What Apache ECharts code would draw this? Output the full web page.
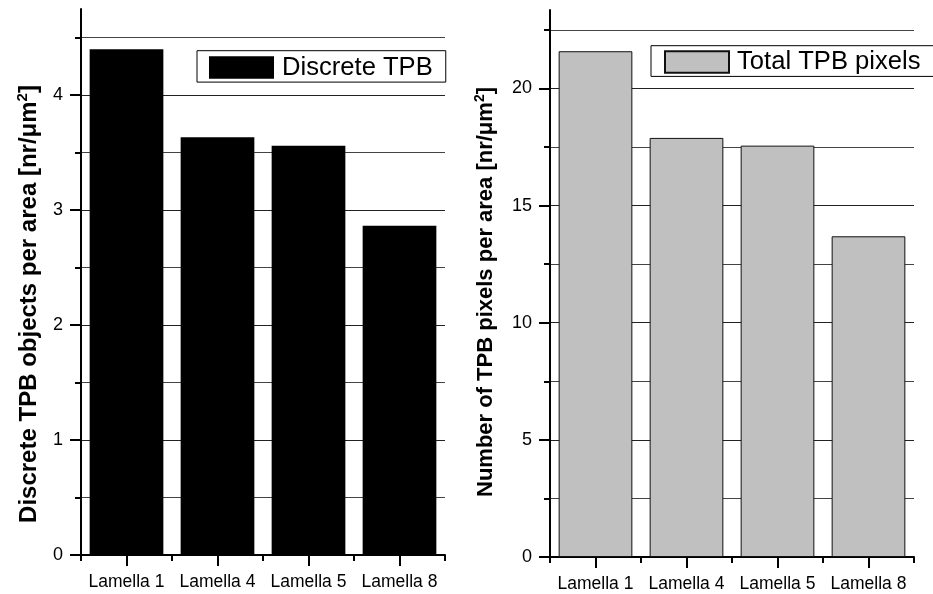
<!DOCTYPE html>
<html>
<head>
<meta charset="utf-8">
<script src="https://cdn.jsdelivr.net/npm/echarts@6/dist/echarts.min.js"></script>
<style>
html,body{margin:0;padding:0;background:#fff;}
#c{width:933px;height:594px;}
</style>
</head>
<body>
<div id="c"></div>
<script>
// ---- data ----
const categories = ['Lamella 1', 'Lamella 4', 'Lamella 5', 'Lamella 8'];
const discreteTPB = [4.40, 3.635, 3.56, 2.865];
const totalTPBpixels = [21.59, 17.89, 17.56, 13.69];
const leftMajorTicks = [0, 1, 2, 3, 4];
const leftMinorTicks = [0.5, 1.5, 2.5, 3.5, 4.5];
const rightMajorTicks = [0, 5, 10, 15, 20];
const rightMinorTicks = [2.5, 7.5, 12.5, 17.5, 22.5];
const leftTitle = 'Discrete TPB objects per area [nr/μm';
const rightTitle = 'Number of TPB pixels per area [nr/μm';

const FONT = '"Liberation Sans", Arial, Helvetica, sans-serif';
const chart = echarts.init(document.getElementById('c'), null, {renderer: 'canvas'});

function xAxes(grid) {
  return [
    {
      type: 'category', gridIndex: grid, position: 'bottom', data: categories,
      axisLine: {show: true, lineStyle: {color: '#000', width: 2}},
      axisTick: {show: true, alignWithLabel: true, length: 11, inside: false, lineStyle: {color: '#000', width: 2}},
      axisLabel: {show: true, interval: 0, color: '#000', fontSize: 17.5, fontFamily: FONT, margin: 18},
      splitLine: {show: false}
    },
    {
      type: 'category', gridIndex: grid, position: 'bottom', data: categories,
      axisLine: {show: false},
      axisTick: {show: true, interval: 0, alignWithLabel: false, length: 6, lineStyle: {color: '#000', width: 2}},
      axisLabel: {show: false},
      splitLine: {show: false}
    }
  ];
}

function yAxes(grid, max, interval, major, minor) {
  return [
    {
      type: 'value', gridIndex: grid, position: 'left', min: 0, max: max, interval: interval,
      axisLine: {show: true, lineStyle: {color: '#000', width: 2}},
      axisTick: {show: true, length: 11, customValues: major, lineStyle: {color: '#000', width: 2}},
      axisLabel: {show: true, customValues: major, color: '#000', fontSize: 18, fontFamily: FONT, margin: 18},
      splitLine: {show: true, showMinLine: false, showMaxLine: true, lineStyle: {color: '#222', width: 1}}
    },
    {
      type: 'value', gridIndex: grid, position: 'left', min: 0, max: max, interval: interval,
      axisLine: {show: false},
      axisTick: {show: true, length: 6, customValues: minor, lineStyle: {color: '#000', width: 2}},
      axisLabel: {show: false},
      splitLine: {show: true, showMinLine: true, showMaxLine: true, lineStyle: {color: '#444', width: 1}}
    }
  ];
}

const option = {
  animation: false,
  backgroundColor: '#fff',
  textStyle: {fontFamily: FONT},
  grid: [
    {left: 81, top: 9, width: 364, bottom: 39, containLabel: false},
    {left: 550, top: 10, width: 364, bottom: 37, containLabel: false}
  ],
  xAxis: xAxes(0).concat(xAxes(1)),
  yAxis: yAxes(0, 4.75, 0.5, leftMajorTicks, leftMinorTicks)
    .concat(yAxes(1, 23.35, 2.5, rightMajorTicks, rightMinorTicks)),
  legend: [
    {
      data: ['Discrete TPB'], left: 197, top: 50.7, orient: 'horizontal',
      icon: 'rect', itemWidth: 65, itemHeight: 22.7, selectedMode: false,
      padding: [3.8, 13, 1.6, 12], borderColor: '#000', borderWidth: 1,
      textStyle: {color: '#000', fontSize: 25.6, fontFamily: FONT, padding: [0, 0, 0, 3]}
    },
    {
      data: ['Total TPB pixels'], left: 651, top: 45.7, right: -60, orient: 'horizontal',
      icon: 'rect', itemWidth: 64, itemHeight: 21.7, selectedMode: false,
      padding: [3.3, 40, 1.4, 13], borderColor: '#000', borderWidth: 1,
      textStyle: {color: '#000', fontSize: 25.6, fontFamily: FONT, padding: [0, 0, 0, 3]}
    }
  ],
  series: [
    {
      name: 'Discrete TPB', type: 'bar', xAxisIndex: 0, yAxisIndex: 0,
      data: discreteTPB, barCategoryGap: '19%',
      itemStyle: {color: '#000'}
    },
    {
      name: 'Total TPB pixels', type: 'bar', xAxisIndex: 2, yAxisIndex: 2,
      data: totalTPBpixels, barCategoryGap: '19%',
      itemStyle: {color: '#c0c0c0', borderColor: '#111', borderWidth: 1}
    }
  ],
  graphic: [
    {
      type: 'text', x: 29, y: 304, rotation: Math.PI / 2,
      style: {
        text: '{a|' + leftTitle + '}{s|2}{a|]}',
        align: 'center', verticalAlign: 'middle',
        rich: {
          a: {fontSize: 24, fontWeight: 'bold', fontFamily: FONT, fill: '#000', lineHeight: 28},
          s: {fontSize: 15, fontWeight: 'bold', fontFamily: FONT, fill: '#000', verticalAlign: 'top', lineHeight: 28}
        }
      }
    },
    {
      type: 'text', x: 486, y: 292, rotation: Math.PI / 2,
      style: {
        text: '{a|' + rightTitle + '}{s|2}{a|]}',
        align: 'center', verticalAlign: 'middle',
        rich: {
          a: {fontSize: 22, fontWeight: 'bold', fontFamily: FONT, fill: '#000', lineHeight: 26},
          s: {fontSize: 14, fontWeight: 'bold', fontFamily: FONT, fill: '#000', verticalAlign: 'top', lineHeight: 26}
        }
      }
    }
  ]
};
chart.setOption(option);
</script>
</body>
</html>
